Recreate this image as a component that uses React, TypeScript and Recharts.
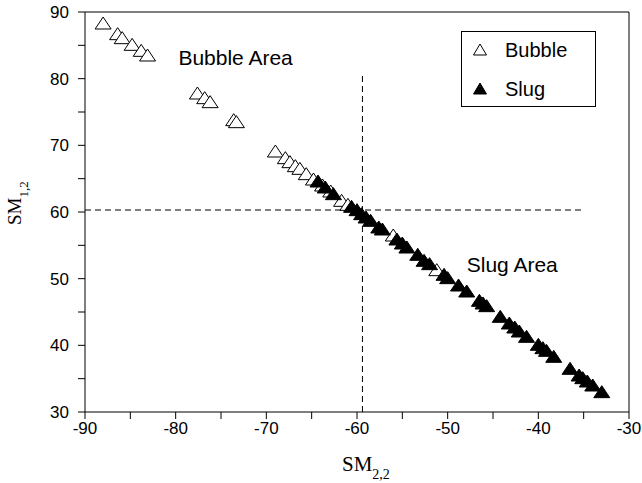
import React from 'react';
import {
  ScatterChart,
  Scatter,
  XAxis,
  YAxis,
  ReferenceLine,
  ReferenceDot,
  Legend,
} from 'recharts';

// values
const bubbleX = [-88.0, -86.4, -85.9, -84.8, -83.8, -83.1, -77.6, -76.8, -76.2, -73.6, -73.3, -69.0, -67.9, -67.4, -66.8, -66.3, -65.6, -64.8, -63.8, -62.9, -61.7, -61.0, -56.0, -51.2];
const bubbleY = [88.2, 86.6, 86.0, 85.0, 84.1, 83.4, 77.7, 77.0, 76.4, 73.7, 73.4, 69.0, 68.0, 67.4, 66.8, 66.4, 65.6, 64.8, 63.9, 63.0, 61.6, 61.0, 56.4, 51.2];

const slugX = [-64.3, -63.5, -62.6, -60.6, -60.0, -59.5, -59.0, -58.5, -57.6, -57.2, -55.6, -55.0, -54.5, -53.3, -52.6, -52.0, -50.4, -50.0, -48.8, -47.9, -46.5, -46.1, -45.7, -44.2, -43.2, -42.6, -42.1, -41.3, -40.0, -39.5, -39.1, -38.3, -36.5, -35.5, -35.1, -34.6, -34.0, -33.0];
const slugY = [64.5, 63.6, 62.6, 60.7, 60.2, 59.6, 59.1, 58.6, 57.6, 57.3, 55.8, 55.2, 54.6, 53.5, 52.6, 52.1, 50.5, 50.0, 48.9, 48.0, 46.6, 46.2, 45.8, 44.2, 43.2, 42.6, 42.0, 41.2, 40.0, 39.5, 39.1, 38.2, 36.4, 35.4, 35.0, 34.5, 33.9, 32.9];

const xTicks = [-90, -85, -80, -75, -70, -65, -60, -55, -50, -45, -40, -35, -30];
const yTicks = [30, 35, 40, 45, 50, 55, 60, 65, 70, 75, 80, 85, 90];

// boundary between regimes
const splitX = -59.4;
const splitY = 60.3;

const bubbleData = bubbleX.map((x, i) => ({ x, y: bubbleY[i] }));
const slugData = slugX.map((x, i) => ({ x, y: slugY[i] }));

const SANS = 'Liberation Sans, Arial, sans-serif';
const SERIF = 'Liberation Serif, Times New Roman, serif';

const label10 = (v: number) => (v % 10 === 0 ? String(v) : '');

function Triangle(props: any) {
  const { cx, cy, filled } = props;
  if (cx == null || cy == null) return null;
  return (
    <polygon
      points={`${cx},${cy - 7} ${cx - 8},${cy + 5} ${cx + 8},${cy + 5}`}
      fill={filled ? '#000' : '#fff'}
      stroke="#000"
      strokeWidth={1}
    />
  );
}

function LegendBox() {
  const rows = [
    { name: 'Bubble', filled: false },
    { name: 'Slug', filled: true },
  ];
  return (
    <div
      style={{
        width: 133,
        height: 74,
        border: '1px solid #000',
        background: '#fff',
        fontFamily: SANS,
        fontSize: 20,
        color: '#000',
      }}
    >
      {rows.map((r, i) => (
        <div key={r.name} style={{ position: 'absolute', left: 0, top: 7 + i * 39, height: 24, display: 'flex', alignItems: 'center' }}>
          <svg width={40} height={24} style={{ display: 'block' }}>
            <polygon
              points="19,6 12.5,17 25.5,17"
              fill={r.filled ? '#000' : '#fff'}
              stroke="#000"
              strokeWidth={1}
            />
          </svg>
          <span style={{ marginLeft: 4 }}>{r.name}</span>
        </div>
      ))}
    </div>
  );
}

const areaLabel = (text: string) => (props: any) => {
  const vb = props.viewBox || {};
  return (
    <text x={vb.x} y={vb.y} fontFamily={SANS} fontSize={21} fill="#000" textAnchor="start">
      {text}
    </text>
  );
};

export default function App() {
  return (
    <div style={{ position: 'absolute', left: 0, top: 0, width: 642, height: 483, background: '#fff' }}>
      <ScatterChart width={642} height={483} margin={{ top: 12, right: 13, bottom: 0, left: 0 }}>
        <XAxis
          type="number"
          dataKey="x"
          domain={[-90, -30]}
          ticks={xTicks}
          tickFormatter={label10}
          height={71}
          tickSize={7}
          tickMargin={3}
          axisLine={{ stroke: '#000' }}
          tickLine={{ stroke: '#000' }}
          tick={{ fontSize: 17, fill: '#000', fontFamily: SANS }}
          label={(props: any) => {
            const vb = props.viewBox;
            const x0 = vb.x + vb.width / 2 - 15;
            return (
              <text x={x0} y={471} fontFamily={SERIF} fontSize={21} fill="#000">
                <tspan>SM</tspan>
                <tspan dy={8} fontSize={14}>2,2</tspan>
              </text>
            );
          }}
        />
        <YAxis
          type="number"
          dataKey="y"
          domain={[30, 90]}
          ticks={yTicks}
          tickFormatter={label10}
          width={85}
          tickSize={7}
          tickMargin={9}
          axisLine={{ stroke: '#000' }}
          tickLine={{ stroke: '#000' }}
          tick={{ fontSize: 17, fill: '#000', fontFamily: SANS }}
          label={() => (
            <text x={21} y={225} transform="rotate(-90, 21, 225)" fontFamily={SERIF} fontSize={19} fill="#000">
              <tspan>SM</tspan>
              <tspan dy={7} fontSize={13}>1,2</tspan>
            </text>
          )}
        />
        <ReferenceLine y={90} stroke="#000" />
        <ReferenceLine x={-30} stroke="#000" />
        <ReferenceLine
          segment={[{ x: splitX, y: 30 }, { x: splitX, y: 80.5 }]}
          stroke="#000"
          strokeDasharray="6 4"
        />
        <ReferenceLine
          segment={[{ x: -90, y: splitY }, { x: -35, y: splitY }]}
          stroke="#000"
          strokeDasharray="6 4"
        />
        <ReferenceDot x={-79.7} y={82.1} r={0} stroke="none" fill="none" label={areaLabel('Bubble Area')} />
        <ReferenceDot x={-47.9} y={51.0} r={0} stroke="none" fill="none" label={areaLabel('Slug Area')} />
        <Scatter
          name="Bubble"
          data={bubbleData}
          isAnimationActive={false}
          shape={(p: any) => <Triangle {...p} filled={false} />}
        />
        <Scatter
          name="Slug"
          data={slugData}
          isAnimationActive={false}
          shape={(p: any) => <Triangle {...p} filled />}
        />
        <Legend
          layout="horizontal"
          verticalAlign="middle"
          align="center"
          content={() => <LegendBox />}
          wrapperStyle={{ position: 'absolute', left: 461, top: 31, width: 135, height: 76 }}
        />
      </ScatterChart>
    </div>
  );
}
